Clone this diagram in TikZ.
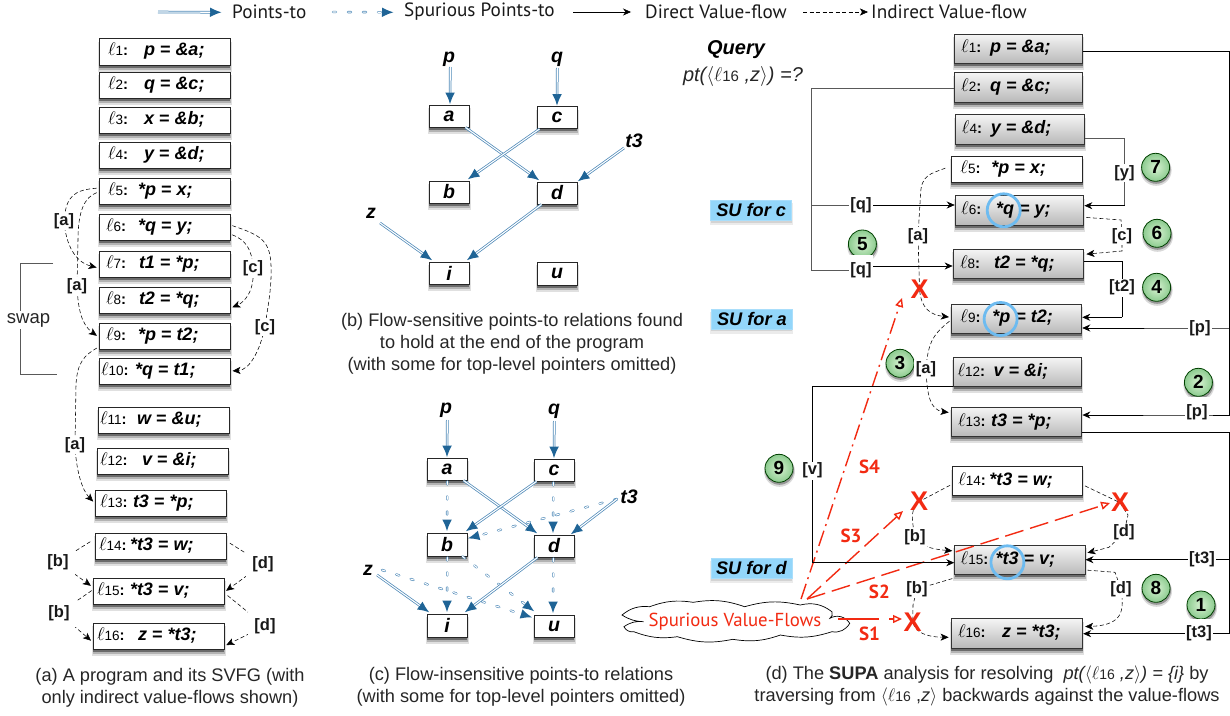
\documentclass[tikz,border=0pt]{standalone}
\usepackage{fix-cm}
\usepackage{fontspec}
\setmainfont{Liberation Sans}
\newfontfamily\handfont{PT Sans}
\usetikzlibrary{arrows.meta,shadows,shapes.symbols,calc}
\definecolor{ptblue}{HTML}{1F6496}
\definecolor{ptline}{HTML}{4F8AB8}
\definecolor{redline}{HTML}{F22A12}
\definecolor{sublue}{HTML}{93D6FA}
\definecolor{ringblue}{HTML}{6DBBF0}
\definecolor{ballin}{HTML}{D8F2D2}
\definecolor{ballout}{HTML}{8CCB8F}
\newcommand\sz[1]{\fontsize{#1}{#1}\selectfont}
\newcommand\lab[1]{{\sz{18.5}$\ell$}{\sz{13.5}#1}{\sz{15}\bfseries:}}
\newcommand\codef{\sz{18}\bfseries\itshape}
\def\getbox#1/#2/#3/#4\relax{\def\xa{#1}\def\ya{#2}\def\xb{#3}\def\yb{#4}}
% style, name, x1/y1/x2/y2, label dx, label no, code dx, code
\newcommand\cell[7]{\getbox#3\relax
  \pgfmathsetmacro\bxc{(\xa+\xb)/2}\pgfmathsetmacro\byc{(\ya+\yb)/2}
  \pgfmathsetmacro\bw{\xb-\xa}\pgfmathsetmacro\bh{\yb-\ya}
  \fill[black,opacity=.12] (\xa-1.5,\ya+3) rectangle (\xb+1.5,\yb+6.5);
  \fill[black,opacity=.2] (\xa-.5,\ya+3) rectangle (\xb+.5,\yb+4.5);
  \fill[black,opacity=.4] (\xa,\ya+3) rectangle (\xb,\yb+2.5);
  \node[#1,minimum width=\bw pt,minimum height=\bh pt] (#2) at (\bxc,\byc)
    {\makebox[\bw pt][l]{\hspace*{#4pt}\rlap{\lab{#5}}\hspace*{\dimexpr#6pt-#4pt\relax}\codef\rule[-.25em]{0pt}{.95em}#7}};}
% name, x1/y1/x2/y2, text
\newcommand\var[3]{\getbox#2\relax
  \pgfmathsetmacro\bxc{(\xa+\xb)/2}\pgfmathsetmacro\byc{(\ya+\yb)/2}
  \pgfmathsetmacro\bw{\xb-\xa}\pgfmathsetmacro\bh{\yb-\ya}
  \fill[black,opacity=.12] (\xa-1.5,\ya+3) rectangle (\xb+1.5,\yb+6.5);
  \fill[black,opacity=.2] (\xa-.5,\ya+3) rectangle (\xb+.5,\yb+4.5);
  \fill[black,opacity=.4] (\xa,\ya+3) rectangle (\xb,\yb+2.5);
  \node[plainbox,minimum width=\bw pt,minimum height=\bh pt,font=\sz{19.5}\bfseries\itshape] (#1) at (\bxc,\byc) {#3};}
% name, centre x, centre y, text
\newcommand\ball[4]{%
  \fill[black,opacity=.15] (#2+.5,#3+3) circle (15.5);
  \fill[black,opacity=.3] (#2+.5,#3+2) circle (14.5);
  \node[badge] (#1) at (#2,#3) {#4};}
\newcommand\sutag[4]{%
  \fill[black,opacity=.08] (#2-41.5,#3-7) rectangle (#2+41.5,#3+15);
  \fill[black,opacity=.1] (#2-40.5,#3-7) rectangle (#2+40.5,#3+12.5);
  \node[su,minimum width=81pt,minimum height=20pt] (#1) at (#2,#3) {#4};}
\tikzset{
  plainbox/.style={draw=black!85,line width=.9pt,fill=white,inner sep=0pt},
  greybox/.style={draw=black!80,line width=.9pt,top color=gray!8,bottom color=gray!55,inner sep=0pt},
  ptsto/.style={draw=ptline,line width=2.6pt,
     -{Latex[length=12pt,width=10pt,color=ptblue]},
     postaction={draw=white,line width=1.1pt,-{},shorten >=12pt}},
  spur/.style={draw=ptline,line width=2.4pt,line cap=round,dash pattern=on 3pt off 12pt,
     -{Latex[length=12pt,width=10pt,color=ptblue]},
     postaction={draw=white,line width=1.1pt,-{},shorten >=12pt,dash pattern=on 3pt off 12pt}},
  dirflow/.style={draw=black,line width=.7pt,-{Stealth[length=8pt,width=7pt]}},
  dirline/.style={draw=black,line width=.7pt},
  grayline/.style={draw=black!65,line width=.9pt},
  indflow/.style={draw=black,line width=.55pt,dash pattern=on 4pt off 2.5pt,
     -{Stealth[length=8pt,width=7pt,inset=2pt,color=black]},shorten <=2pt,shorten >=2pt},
  lbl/.style={fill=white,inner sep=1.5pt,font=\sz{16.5}\bfseries,text=black!90},
  tall/.style={lbl,minimum height=30pt},
  varlbl/.style={font=\sz{19.5}\bfseries\itshape,inner sep=0pt},
  caption/.style={font=\fontsize{18.2}{22}\selectfont,align=center,text=black!85,inner sep=0pt},
  su/.style={fill=sublue,draw=sublue!80!white,line width=.5pt,inner sep=0pt,font=\sz{18.2}\bfseries\itshape},
  ring/.style={draw=ringblue,line width=2.8pt,circle,minimum size=33pt,inner sep=0pt},
  badge/.style={circle,draw=black!75!green,line width=.8pt,inner color=ballin,outer color=ballout,
     minimum size=28pt,inner sep=0pt,font=\sz{19}\bfseries},
  cross/.style={text=redline,font=\sz{27}\bfseries,inner sep=0pt},
  slab/.style={text=redline,font=\handfont\sz{19}\bfseries,inner sep=0pt},
  redsolid/.style={draw=redline,line width=1.4pt,-{Triangle[open,length=9pt,width=8pt,fill=white]}},
  reddash/.style={redsolid,dash pattern=on 19pt off 7pt},
  reddot/.style={redsolid,dash pattern=on 16pt off 5pt on 2pt off 5pt},
  legend/.style={font=\handfont\sz{19.2},inner sep=0pt,anchor=west,text=black!90},
}
\begin{document}
\begin{tikzpicture}[x=1pt,y=-1pt]
\useasboundingbox (0,0) rectangle (1230,715);

%% ---------- legend
\coordinate (k1a) at (158,12); \coordinate (k1b) at (222,12.3);
\coordinate (k2a) at (333,12); \coordinate (k2b) at (394,12.3);
\coordinate (k3a) at (573,12); \coordinate (k3b) at (631,12);
\coordinate (k4a) at (803,12); \coordinate (k4b) at (868,12);
\draw[ptsto] (k1a) -- (k1b);
\node[legend] (kt1) at (232,12) {Points-to};
\draw[spur] (k2a) -- (k2b);
\node[legend] (kt2) at (404,12) {Spurious Points-to};
\draw[dirflow] (k3a) -- (k3b);
\node[legend] (kt3) at (645,12) {Direct Value-flow};
\draw[indflow,shorten <=0pt,shorten >=0pt] (k4a) -- (k4b);
\node[legend] (kt4) at (871,12) {Indirect Value-flow};

%% ---------- panel (a)
\cell{plainbox}{a1}{99/38.5/230/65}{9}{1}{45}{p = \&a;}
\cell{plainbox}{a2}{99/72/230/98}{9}{2}{45}{q = \&c;}
\cell{plainbox}{a3}{99/107/230/133}{9}{3}{45}{x = \&b;}
\cell{plainbox}{a4}{99/142/230/168}{9}{4}{45}{y = \&d;}
\cell{plainbox}{a5}{99/178/230/204}{9}{5}{39}{*p = x;}
\cell{plainbox}{a6}{99/214/230/240}{7}{6}{39}{*q = y;}
\cell{plainbox}{a7}{99/251/230/277}{7}{7}{40}{t1 = *p;}
\cell{plainbox}{a8}{99/287/230/313}{7}{8}{40}{t2 = *q;}
\cell{plainbox}{a9}{99/323/230/349}{7}{9}{39}{*p = t2;}
\cell{plainbox}{a10}{99/358/230/384}{2}{10}{36}{*q = t1;}
\cell{plainbox}{a11}{98/407/229/433}{2}{11}{39}{w = \&u;}
\cell{plainbox}{a12}{97/448/228/474}{3}{12}{45}{v = \&i;}
\cell{plainbox}{a13}{95/490/226/516}{5}{13}{38}{t3 = *p;}
\cell{plainbox}{a14}{95/533/226/559}{4}{14}{35}{*t3 = w;}
\cell{plainbox}{a15}{93/578/224/604}{4}{15}{37}{*t3 = v;}
\cell{plainbox}{a16}{93/623/224/649}{4}{16}{45}{z = *t3;}

\draw[indflow] (a5.west |- 0,188) .. controls (75,190) and (66,195) .. (64,221) node[lbl] (ala) {[a]}
   .. controls (66,245) and (75,262) .. (a7.west |- 0,268);
\draw[indflow] (a5.west |- 0,192) .. controls (85,197) and (78,210) .. (78,240) -- (77,286) node[lbl] (alb) {[a]}
   .. controls (78,310) and (82,325) .. (a9.west |- 0,337);
\draw[indflow] (a6.east |- 0,234) .. controls (245,240) and (252,248) .. (253,268) node[lbl] (alc) {[c]}
   .. controls (255,290) and (245,302) .. (a8.east |- 0,308);
\draw[indflow] (a6.east |- 0,225) .. controls (260,235) and (270,240) .. (271,265)
   .. controls (272,290) and (267,310) .. (265,327) node[lbl] (ald) {[c]}
   .. controls (260,350) and (250,370) .. (a10.east |- 0,371);
\draw[indflow] (a9.west |- 0,347) .. controls (85,355) and (77,362) .. (76,385) -- (75,445) node[lbl] (ale) {[a]}
   .. controls (76,470) and (82,490) .. (a13.west |- 0,503);
\draw[indflow,shorten <=5pt] (a14.west |- 0,539) -- (58,562) node[lbl,inner sep=6pt] (alf) {[b]} -- (a15.west |- 0,587);
\draw[indflow,shorten <=1pt] (a15.west |- 0,590) -- (59,613) node[lbl,inner sep=6pt] (alg) {[b]} -- (a16.west |- 0,642);
\draw[indflow,shorten <=4pt] (a14.east |- 0,541) -- (263,564) node[lbl,inner sep=6pt] (alh) {[d]} -- (a15.east |- 0,592);
\draw[indflow,shorten <=4pt] (a15.east |- 0,593) -- (265,626) node[lbl,inner sep=6pt] (ali) {[d]} -- (a16.east |- 0,646);

\coordinate (sw1) at (53,263); \coordinate (sw2) at (57,374);
\draw[grayline] (sw1) -- (20,263) -- (20,374) -- (sw2);
\node[fill=white,inner sep=2pt,font=\sz{18.5},text=black!85] (swaplab) at (28.5,320) {swap};
\node[caption] (capa) at (170,688) {(a) A program and its SVFG (with\\only indirect value-flows shown)};

%% ---------- panel (b)
\var{ba}{429/105/469/127}{a}
\var{bc}{537/106.5/577/128.5}{c}
\var{bb}{429/181/469/203}{b}
\var{bd}{537/182/577/204}{d}
\var{bi}{429/262/469/284}{i}
\var{bu}{537/262/577/285}{u}
\node[varlbl] (bp) at (449,59) {p};
\node[varlbl] (bq) at (557,59) {q};
\node[varlbl] (bt) at (634,141) {t3};
\node[varlbl] (bz) at (371,213) {z};
\coordinate (bpe) at (450.3,67); \coordinate (bqe) at (557.3,68);
\coordinate (bte) at (624,148); \coordinate (bze) at (380,223);
\draw[ptsto] (bpe) -- ($(ba.north)+(1,0)$);
\draw[ptsto] (bqe) -- ($(bc.north)+(0,0)$);
\draw[ptsto] (ba.south east) ++(-4,0) -- ($(bd.north west)+(3,-1)$);
\draw[ptsto] (bc.south west) ++(3,0) -- ($(bb.north east)+(-2,-1)$);
\draw[ptsto] (bte) -- ($(bd.north east)+(0,0)$);
\draw[ptsto] (bd.south west) ++(5,0) -- ($(bi.north east)+(-3,-1)$);
\draw[ptsto] (bze) -- ($(bi.north west)+(4,-1)$);
\node[caption] (capb) at (512,344) {(b) Flow-sensitive points-to relations found\\to hold at the end of the program\\(with some for top-level pointers omitted)};

%% ---------- panel (c)
\var{ca}{427/458/467/480}{a}
\var{cc}{534/459/574/481}{c}
\var{cb}{427/533/467/556}{b}
\var{cd}{534/535/574/557}{d}
\var{ci}{427/614/467/637}{i}
\var{cu}{534/615/574/637}{u}
\node[varlbl] (cp) at (446,410) {p};
\node[varlbl] (cq) at (554,411) {q};
\node[varlbl] (ct) at (629,497) {t3};
\node[varlbl] (cz) at (368,570) {z};
\coordinate (cpe) at (447.3,420); \coordinate (cqe) at (554.3,421);
\coordinate (cte) at (617,499); \coordinate (cze) at (377,575); \coordinate (cze2) at (382,570);
\draw[spur] (ca.south) ++(0.3,1) -- ($(cb.north)+(0,-1)$);
\draw[spur] (cc.south) ++(-0.7,1) -- ($(cd.north)+(-1,-1)$);
\draw[spur] (cte) -- ($(cb.east)+(0,-6)$);
\draw[spur] (cb.south) ++(0.3,1) -- ($(ci.north)+(0,-1)$);
\draw[spur] (cd.south) ++(-0.7,1) -- ($(cu.north)+(-1,-1)$);
\draw[spur] (cb.south east) ++(-5,0) -- ($(cu.north west)+(1,-3)$);
\draw[spur] (cze2) -- ($(cu.north west)+(-1,3)$);
\draw[ptsto] (cpe) -- ($(ca.north)+(0,0)$);
\draw[ptsto] (cqe) -- ($(cc.north)+(0,0)$);
\draw[ptsto] (ca.south east) ++(-4,0) -- ($(cd.north west)+(4,-1)$);
\draw[ptsto] (cc.south west) ++(3,0) -- ($(cb.north east)+(-2,-1)$);
\draw[ptsto] (cte) -- ($(cd.north east)+(-4,0)$);
\draw[ptsto] (cd.south west) ++(4,0) -- ($(ci.north east)+(-3,-1)$);
\draw[ptsto] (cze) -- ($(ci.north west)+(3,-1)$);
\node[caption] (capc) at (521,687) {(c) Flow-insensitive points-to relations\\(with some for top-level pointers omitted)};

%% ---------- panel (d)
\node[inner sep=0pt,font=\sz{20}\bfseries\itshape] (query) at (736,49.5) {Query};
\node[inner sep=0pt,font=\sz{20}\itshape,text=black!85] (ptq) at (743,76) {pt($\langle$$\ell${\upshape\sz{15}16} ,z$\rangle$) =?};

\cell{greybox}{d1}{954.2/34/1082.8/63.3}{7}{1}{36}{p = \&a;}
\cell{greybox}{d2}{954.2/72.7/1082.8/102}{7}{2}{36}{q = \&c;}
\cell{greybox}{d4}{955.9/114.7/1084.6/144}{6}{4}{35}{y = \&d;}
\cell{plainbox}{d5}{951.4/156.3/1082.5/182.7}{9}{5}{40}{*p = x;}
\cell{greybox}{d6}{955.2/195.7/1083.9/225}{6}{6}{41}{*q = y;}
\cell{greybox}{d8}{953.1/249.3/1083.9/278.7}{7}{8}{41}{t2 = *q;}
\cell{greybox}{d9}{951.4/304/1081.8/333.3}{9}{9}{41}{*p = t2;}
\cell{greybox}{d12}{953.5/357.3/1081.9/386.7}{4}{12}{40}{v = \&i;}
\cell{greybox}{d13}{951.1/407.3/1081.9/436.7}{7}{13}{40}{t3 = *p;}
\cell{plainbox}{d14}{952.3/466.7/1082.7/495}{6}{14}{37}{*t3 = w;}
\cell{greybox}{d15}{954.7/545.3/1085/574.7}{6}{15}{41}{*t3 = v;}
\cell{greybox}{d16}{951.1/618.7/1082.7/648}{7}{16}{51}{z = *t3;}

\sutag{suc}{751.2}{210.2}{SU for c}
\sutag{sua}{751.9}{318.8}{SU for a}
\sutag{sud}{751.4}{568.2}{SU for d}

% cloud
\coordinate (cl1) at (622,615); \coordinate (cl2) at (649.6,606.7); \coordinate (cl3) at (693.2,602.3);
\coordinate (cl4) at (744.7,606.7); \coordinate (cl5) at (800.2,605); \coordinate (cl6) at (831.9,611.7);
\coordinate (cl7) at (829.9,618.3); \coordinate (cl8) at (849.7,623.3); \coordinate (cl9) at (831.9,631.7);
\coordinate (cl10) at (780.4,635); \coordinate (cl11) at (732.8,639.3); \coordinate (cl12) at (677.4,636.7);
\coordinate (cl13) at (633.8,631.7); \coordinate (cl14) at (623.9,626.7); \coordinate (cl15) at (643.7,621.7);
\draw[black,line width=.7pt,fill=white]
  (cl1) to[bend left=22] (cl2) to[bend left=14] (cl3) to[bend left=14] (cl4) to[bend left=14] (cl5)
  to[bend left=25] (cl6) to[bend left=40] (cl7) to[bend left=45] (cl8) to[bend left=35] (cl9)
  to[bend left=14] (cl10) to[bend left=14] (cl11) to[bend left=14] (cl12) to[bend left=14] (cl13)
  to[bend left=35] (cl14) to[bend left=20] (cl15) to[bend left=15] cycle;
\node[slab,font=\handfont\sz{18.8}] (cloudt) at (735,622) {Spurious Value-Flows};

% red spurious flows
\coordinate (r1a) at (838,619); \coordinate (r1b) at (902,619);
\coordinate (r2a) at (807,599); \coordinate (r2b) at (1110,503);
\coordinate (r3b) at (903,511);
\coordinate (r4a) at (801,599); \coordinate (r4b) at (902,298);
\draw[redsolid,dash pattern=on 41pt off 10pt] (r1a) -- (r1b);
\draw[reddash] (r2a) -- (r2b);
\draw[reddash] (r2a) -- (r3b);
\draw[reddot] (r4a) -- (r4b);
\node[slab] (s1) at (869.5,634) {S1};
\node[slab] (s2) at (879.4,591.7) {S2};
\node[slab] (s3) at (851,535.7) {S3};
\node[slab] (s4) at (869.5,467.3) {S4};

% badges
\ball{n7}{1155.6}{167.3}{7}
\ball{n6}{1157}{233.3}{6}
\ball{n5}{862.4}{244}{5}
\ball{n4}{1156.6}{287.3}{4}
\ball{n3}{900}{363.3}{3}
\ball{n2}{1198.4}{382.3}{2}
\ball{n9}{779}{468.3}{9}
\ball{n8}{1156}{588.3}{8}
\ball{n1}{1201}{605}{1}

% direct flows
\coordinate (q1) at (861,205); \coordinate (q2) at (861,270);
\draw[grayline] (d2.west |- 0,88) -- (811,88) -- (811,270) -- (q2);
\draw[grayline] (811,205) -- (q1);
\draw[dirflow] (q1) node[tall,minimum height=16pt] (qa) {[q]} -- (d6.west |- 0,205);
\draw[dirflow] ($(q2)+(0,-4)$) -- (d8.west |- 0,266);
\node[tall] (qb) at (q2) {[q]};
\draw[dirline] (d1.east |- 0,51.5) -- (1229,51.5) -- (1229,415) -- (1213,415);
\coordinate (p1) at (1200,328);
\draw[dirflow] (1229,328) -- (p1) node[lbl] (pa) {[p]} -- (d9.east |- 0,328);
\draw[dirflow] (1213,415) -- (1197,415) node[tall,pos=1,yshift=3pt] (pb) {[p]} -- (d13.east |- 0,415);
\draw[grayline] (d4.east |- 0,138.7) -- (1124.5,138.7) -- (1124.5,173) node[lbl] (yl) {[y]} -- (1124.5,205.7);
\draw[dirflow] (1124.5,205.7) -- (d6.east |- 0,205.7);
\draw[dirline] (d8.east |- 0,261) -- (1122,261) -- (1122,287.7) node[lbl] (t2l) {[t2]} -- (1122,317.3);
\draw[dirflow] (1122,317.3) -- (d9.east |- 0,317.3);
\draw[dirline] (d12.west |- 0,386.7) -- (812.5,386.7) -- (812.5,470.7) node[lbl] (vl) {[v]} -- (812.5,562.7);
\draw[dirflow] (812.5,562.7) -- (d15.west |- 0,562.7);
\draw[dirline] (d13.east |- 0,432.3) -- (1229,432.3) -- (1229,633.7) -- (1199,633.7);
\draw[dirflow] (1199,633.7) -- (d16.east |- 0,633.7);
\node[tall] (tb) at (1199,633.7) {[t3]};
\draw[dirline] (1229,559.7) -- (1202,559.7);
\draw[dirflow] (1202,559.7) -- (d15.east |- 0,559.7);
\node[lbl] (ta) at (1202,559.7) {[t3]};

% indirect flows
\draw[indflow,shorten <=6pt] (d5.west |- 0,166) .. controls (930,174) and (921,175) .. (920.5,195) -- (918,236) node[lbl] (da) {[a]}
   -- (919.5,289) .. controls (921,310) and (932,315) .. (d9.west |- 0,317.3);
\draw[indflow] (d9.west |- 0,320) .. controls (935,333) and (928,340) .. (926,369) node[lbl] (db) {[a]}
   .. controls (927,395) and (930,410) .. (d13.west |- 0,412.7);
\draw[indflow] (d6.east |- 0,217.3) -- (1121,220) -- (1122,236) node[lbl] (dc) {[c]} -- (1122,251) -- (d8.east |- 0,254.3);
\draw[indflow,shorten <=2pt] (d14.west |- 0,484.3) -- (919,501.7) .. controls (911,510) and (911,515) .. (915,537.7) node[lbl] (dd) {[b]}
   .. controls (922,546) and (930,549) .. (d15.west |- 0,551);
\draw[indflow] (d15.west |- 0,578) -- (917,589) node[lbl] (de) {[b]} -- (913,605) -- (912.7,622.3) .. controls (916,632) and (925,637) .. (d16.west |- 0,637.3);
\draw[indflow] (d14.east |- 0,485) -- (1120,502.7) -- (1128,515) -- (1124,532.7) node[lbl] (df) {[d]} -- (1109,547.3) -- (d15.east |- 0,553.3);
\draw[indflow] (d15.east |- 0,570) -- (1115,572.3) -- (1121,589) node[lbl] (dg) {[d]} .. controls (1124,610) and (1124,625) .. (d16.east |- 0,626.7);

% crosses and rings
\node[cross] (x1) at (919.7,289.3) {X};
\node[cross] (x2) at (919,501.7) {X};
\node[cross] (x3) at (1120,502.7) {X};
\node[cross] (x4) at (912.7,622.3) {X};
\node[ring] (rq) at (1003.7,210.3) {};
\node[ring] (rp) at (1000.6,319) {};
\node[ring] (rt) at (1007.4,562.3) {};

\node[caption] (capd) at (987,686) {(d) The \textbf{SUPA} analysis for resolving\ \ {\itshape pt($\langle$$\ell${\upshape\sz{14}16} ,z$\rangle$) = \{i\}} by\\traversing from $\langle$$\ell${\sz{14}16} ,{\itshape z}$\rangle$ backwards against the value-flows};
\end{tikzpicture}
\end{document}
